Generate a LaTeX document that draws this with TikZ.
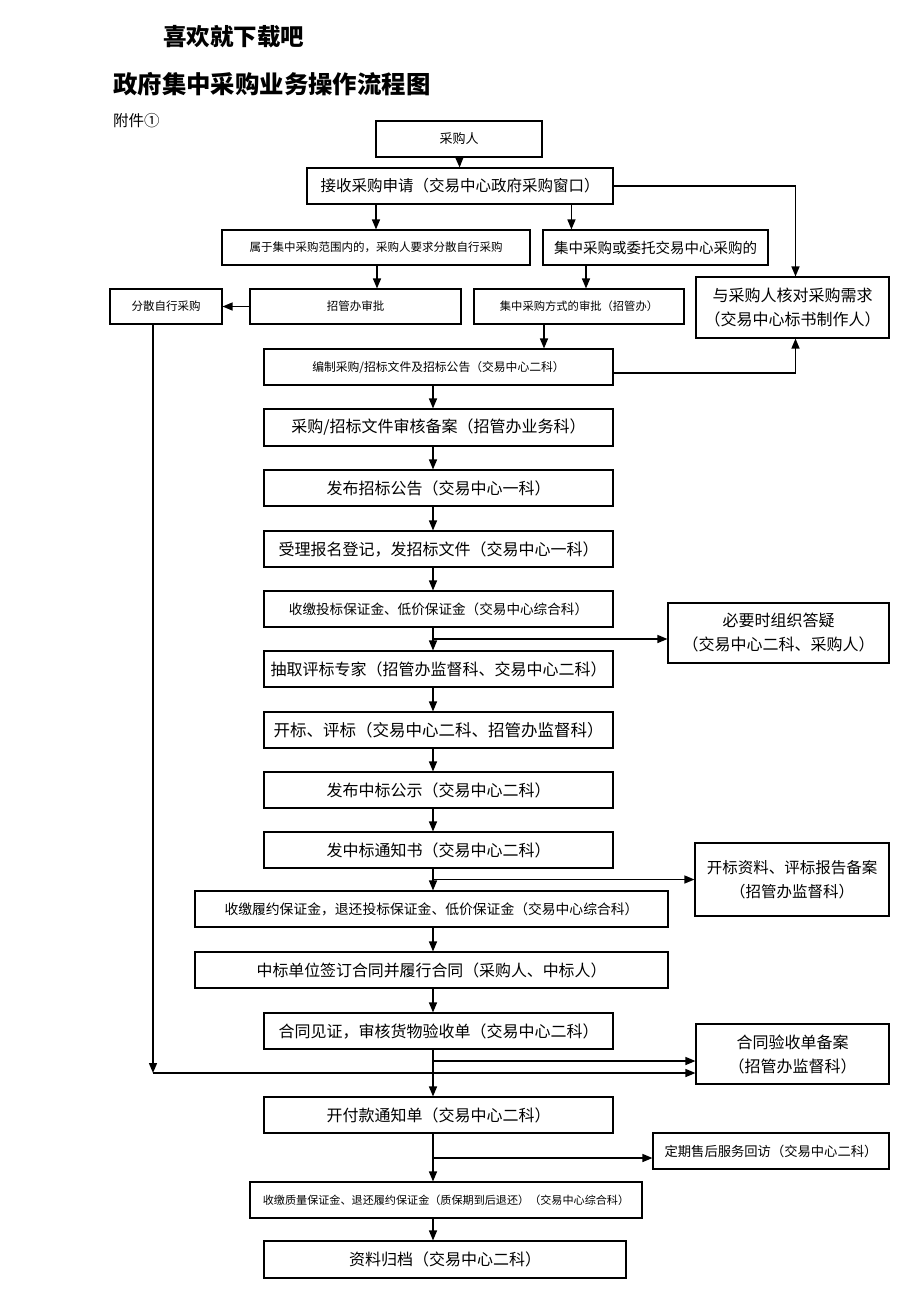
\documentclass[tikz,border=0pt]{standalone}
\usepackage{fontspec}
\setmainfont{Noto Sans CJK SC}
\usetikzlibrary{arrows.meta}
\newcommand{\fs}[1]{\fontsize{#1}{24}\selectfont}
\tikzset{
  box/.style={draw, line width=1.1pt, inner sep=0pt, align=center},
  arr/.style={line width=1.4pt, -{Triangle[length=10pt,width=8pt]}},
}
\begin{document}
\begin{tikzpicture}[x=1pt,y=-1pt]
\useasboundingbox (0,0) rectangle (920,1302);
\coordinate (col) at (433,0);
% titles
\node[anchor=west, inner sep=0pt, font=\fs{23.5}\bfseries] (t1) at (163,37) {喜欢就下载吧};
\node[anchor=west, inner sep=0pt, font=\fs{24.4}\bfseries] (t2) at (113,84) {政府集中采购业务操作流程图};
\node[anchor=west, inner sep=0pt, font=\fs{15.5}] (t3) at (113,121) {附件①};
% boxes
\node[box, minimum width=166pt, minimum height=36pt, font=\fs{13}] (buyer) at (459,139) {采购人};
\node[box, minimum width=306pt, minimum height=36pt, font=\fs{15.5}] (recv) at (460,186) {接收采购申请（交易中心政府采购窗口）};
\node[box, minimum width=308pt, minimum height=35pt, font=\fs{11.5}] (disp) at (376,247.5) {属于集中采购范围内的，采购人要求分散自行采购};
\node[box, minimum width=225pt, minimum height=35pt, font=\fs{14.5}] (cent) at (655.5,247.5) {集中采购或委托交易中心采购的};
\node[box, minimum width=112pt, minimum height=35pt, font=\fs{11.5}] (self) at (166,306.5) {分散自行采购};
\node[box, minimum width=211pt, minimum height=35pt, font=\fs{11.5}] (appr) at (355.5,306.5) {招管办审批};
\node[box, minimum width=210pt, minimum height=35pt, font=\fs{11.3}] (capp) at (579,306.5) {集中采购方式的审批（招管办）};
\node[box, minimum width=193pt, minimum height=61pt, font=\fs{16}] (check) at (792.5,307.5) {与采购人核对采购需求\\（交易中心标书制作人）};
\node[box, minimum width=349pt, minimum height=36pt, font=\fs{11.8}] (comp) at (438.5,367) {编制采购/招标文件及招标公告（交易中心二科）};
\node[box, minimum width=349pt, minimum height=37pt, font=\fs{16}] (review) at (438.5,427.5) {采购/招标文件审核备案（招管办业务科）};
\node[box, minimum width=349pt, minimum height=36pt, font=\fs{16}] (pub) at (438.5,488) {发布招标公告（交易中心一科）};
\node[box, minimum width=349pt, minimum height=36pt, font=\fs{16}] (reg) at (438.5,549) {受理报名登记，发招标文件（交易中心一科）};
\node[box, minimum width=349pt, minimum height=36pt, font=\fs{13.6}] (dep) at (438.5,609) {收缴投标保证金、低价保证金（交易中心综合科）};
\node[box, minimum width=221pt, minimum height=60pt, font=\fs{16}] (answer) at (778.5,633) {必要时组织答疑\\（交易中心二科、采购人）};
\node[box, minimum width=349pt, minimum height=36pt, font=\fs{16}] (expert) at (438.5,669) {抽取评标专家（招管办监督科、交易中心二科）};
\node[box, minimum width=349pt, minimum height=36pt, font=\fs{16.5}] (open) at (438.5,730) {开标、评标（交易中心二科、招管办监督科）};
\node[box, minimum width=349pt, minimum height=36pt, font=\fs{16}] (notice) at (438.5,790) {发布中标公示（交易中心二科）};
\node[box, minimum width=349pt, minimum height=36pt, font=\fs{16}] (award) at (438.5,850) {发中标通知书（交易中心二科）};
\node[box, minimum width=194pt, minimum height=73pt, font=\fs{15.5}] (filea) at (792,879.5) {开标资料、评标报告备案\\（招管办监督科）};
\node[box, minimum width=473pt, minimum height=36pt, font=\fs{13.8}] (perf) at (431.5,909) {收缴履约保证金，退还投标保证金、低价保证金（交易中心综合科）};
\node[box, minimum width=473pt, minimum height=36pt, font=\fs{15.9}] (contract) at (431.5,970) {中标单位签订合同并履行合同（采购人、中标人）};
\node[box, minimum width=349pt, minimum height=36pt, font=\fs{16}] (witness) at (438.5,1031) {合同见证，审核货物验收单（交易中心二科）};
\node[box, minimum width=193pt, minimum height=60pt, font=\fs{16}] (fileb) at (792.5,1054) {合同验收单备案\\（招管办监督科）};
\node[box, minimum width=349pt, minimum height=36pt, font=\fs{16}] (pay) at (438.5,1115) {开付款通知单（交易中心二科）};
\node[box, minimum width=236pt, minimum height=36pt, font=\fs{13.3}] (visit) at (771,1151) {定期售后服务回访（交易中心二科）};
\node[box, minimum width=392pt, minimum height=36pt, font=\fs{11.1}] (quality) at (446,1200) {收缴质量保证金、退还履约保证金（质保期到后退还）（交易中心综合科）};
\node[box, minimum width=362pt, minimum height=37pt, font=\fs{16}] (archive) at (445,1259.5) {资料归档（交易中心二科）};
% connectors top part
\draw[arr] (buyer) -- (recv);
\draw[arr] (disp.north |- recv.south) -- (disp.north);
\draw[arr] ([xshift=29pt]cent.north west |- recv.south) -- ([xshift=29pt]cent.north west);
\draw[arr] ([xshift=1pt]disp.south) -- ([xshift=1pt]disp.south |- appr.north);
\draw[arr] ([xshift=7pt]capp.north |- cent.south) -- ([xshift=7pt]capp.north);
\draw[arr] ([xshift=-35pt]capp.south) -- ([xshift=-35pt]capp.south |- comp.north);
\draw[arr] (appr.west) -- (self.east);
\draw[arr] (recv.east) -| ([xshift=3pt]check.north);
\draw[arr] ([yshift=-6pt]comp.east) -| ([xshift=3pt]check.south);
% main column
\draw[arr] (comp.south -| col) -- (review.north -| col);
\draw[arr] (review.south -| col) -- (pub.north -| col);
\draw[arr] (pub.south -| col) -- (reg.north -| col);
\draw[arr] (reg.south -| col) -- (dep.north -| col);
\draw[arr] (dep.south -| col) -- (expert.north -| col);
\draw[arr] ([yshift=-6pt]answer.west -| col) -- ([yshift=-6pt]answer.west);
\draw[arr] (expert.south -| col) -- (open.north -| col);
\draw[arr] (open.south -| col) -- (notice.north -| col);
\draw[arr] (notice.south -| col) -- (award.north -| col);
\draw[arr] (award.south -| col) -- (perf.north -| col);
\draw[arr] (filea.west -| col) -- (filea.west);
\draw[arr] (perf.south -| col) -- (contract.north -| col);
\draw[arr] (contract.south -| col) -- (witness.north -| col);
\draw[arr] (witness.south -| col) -- (pay.north -| col);
\draw[arr] ([yshift=-7pt]fileb.west -| col) -- ([yshift=-7pt]fileb.west);
\coordinate (corner) at ([xshift=-13pt,yshift=-19pt]self.south |- fileb.west);
\draw[arr] ([xshift=-13pt]self.south) -- (corner);
\draw[arr] (corner) -- ([yshift=-19pt]fileb.west);
\draw[arr] (pay.south -| col) -- (quality.north -| col);
\draw[arr] ([yshift=-7pt]visit.west -| col) -- ([yshift=-7pt]visit.west);
\draw[arr] (quality.south -| col) -- (archive.north -| col);
\end{tikzpicture}
\end{document}
